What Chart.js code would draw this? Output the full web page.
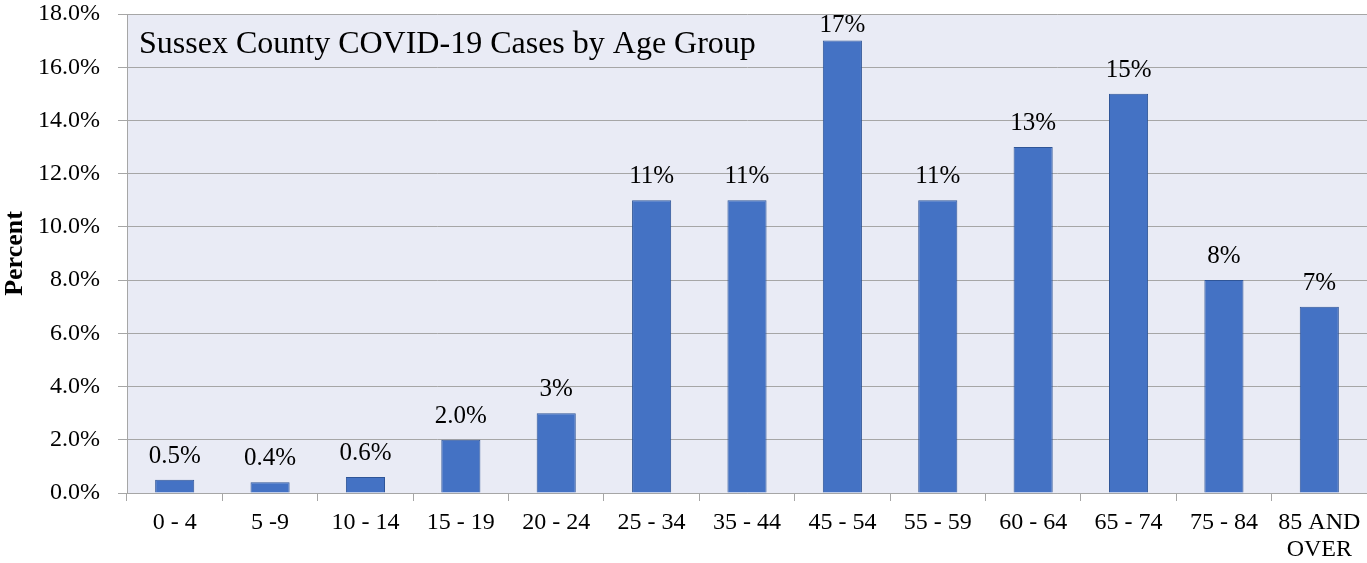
<!DOCTYPE html>
<html>
<head>
<meta charset="utf-8">
<script src="https://cdn.jsdelivr.net/npm/chart.js@4.4.1/dist/chart.umd.min.js"></script>
<style>
  html, body { margin: 0; padding: 0; background: #fff; }
  #wrap { width: 1367px; height: 563px; position: relative; }
</style>
</head>
<body>
<div id="wrap"><canvas id="age-chart"></canvas></div>
<script>
var ageGroups = ['0 - 4', '5 -9', '10 - 14', '15 - 19', '20 - 24', '25 - 34', '35 - 44',
                 '45 - 54', '55 - 59', '60 - 64', '65 - 74', '75 - 84', ['85 AND', 'OVER']];
var percentValues = [0.5, 0.4, 0.6, 2.0, 3, 11, 11, 17, 11, 13, 15, 8, 7];
var percentLabels = ['0.5%', '0.4%', '0.6%', '2.0%', '3%', '11%', '11%', '17%', '11%', '13%', '15%', '8%', '7%'];
var chartTitle = 'Sussex County COVID-19 Cases by Age Group';

var serif = "'Liberation Serif', 'Times New Roman', serif";
var gridGray = '#a6a6a6';

// plot area background + title + value labels
var decorations = {
    id: 'decorations',
    beforeDraw: function(chart) {
        var a = chart.chartArea;
        var ctx = chart.ctx;
        ctx.save();
        ctx.fillStyle = '#e9ebf5';
        ctx.fillRect(a.left, a.top, a.right - a.left, a.bottom - a.top);
        ctx.restore();
    },
    afterDatasetsDraw: function(chart) {
        var ctx = chart.ctx;
        var meta = chart.getDatasetMeta(0);
        ctx.save();
        ctx.fillStyle = '#000';
        ctx.font = '25px ' + serif;
        ctx.textAlign = 'center';
        ctx.textBaseline = 'alphabetic';
        meta.data.forEach(function(bar, i) {
            var y = Math.max(bar.y - 17, 32);
            ctx.fillText(percentLabels[i], bar.x, y);
        });
        ctx.font = '32px ' + serif;
        ctx.textAlign = 'left';
        ctx.fillText(chartTitle, chart.chartArea.left + 12, 53);
        ctx.restore();
    }
};

document.addEventListener('DOMContentLoaded', function() {
    new Chart(document.getElementById('age-chart'), {
        type: 'bar',
        data: {
            labels: ageGroups,
            datasets: [{
                data: percentValues,
                backgroundColor: '#4472c4',
                borderColor: '#2f5597',
                borderWidth: 1,
                categoryPercentage: 1,
                barPercentage: 0.41
            }]
        },
        options: {
            responsive: true,
            maintainAspectRatio: false,
            animation: false,
            layout: { padding: 0 },
            plugins: {
                legend: { display: false },
                tooltip: { enabled: false },
                title: { display: false }
            },
            scales: {
                x: {
                    grid: {
                        offset: true,
                        drawOnChartArea: false,
                        drawTicks: true,
                        tickLength: 8,
                        color: gridGray
                    },
                    border: { display: true, color: gridGray },
                    ticks: {
                        color: '#000',
                        padding: 8,
                        maxRotation: 0,
                        autoSkip: false,
                        font: { family: serif, size: 24, lineHeight: 1.12 }
                    },
                    afterFit: function(scale) {
                        scale.height = 70;
                        scale.paddingLeft = 0;
                        scale.paddingRight = 0;
                    }
                },
                y: {
                    min: 0,
                    max: 18,
                    grid: { color: gridGray, tickLength: 9 },
                    border: { display: true, color: gridGray },
                    ticks: {
                        stepSize: 2,
                        color: '#000',
                        padding: 18,
                        font: { family: serif, size: 24 },
                        callback: function(v) { return v.toFixed(1) + '%'; }
                    },
                    title: {
                        display: true,
                        text: 'Percent',
                        color: '#000',
                        padding: { top: 0, bottom: 0 },
                        font: { family: serif, size: 26, weight: 'bold' }
                    },
                    afterFit: function(scale) {
                        scale.width = 127;
                        scale.paddingTop = 14;
                        scale.paddingBottom = 0;
                    }
                }
            }
        },
        plugins: [decorations]
    });
});
</script>
</body>
</html>
